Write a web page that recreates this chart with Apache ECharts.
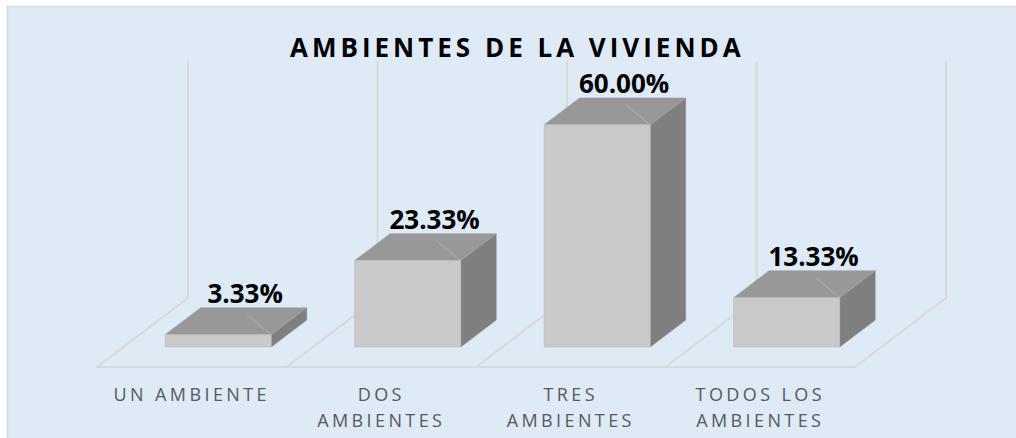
<!DOCTYPE html>
<html>
<head>
<meta charset="utf-8">
<script src="https://cdn.jsdelivr.net/npm/echarts@6/dist/echarts.min.js"></script>
<style>
html, body { margin: 0; padding: 0; background: #fff; }
#main { width: 1016px; height: 438px; }
</style>
</head>
<body>
<div id="main"></div>
<script>
const titleText = 'AMBIENTES DE LA VIVIENDA'
const categories = ['UN AMBIENTE', 'DOS\nAMBIENTES', 'TRES\nAMBIENTES', 'TODOS LOS\nAMBIENTES']
const percents = [3.33, 23.33, 60.00, 13.33]

// fake 3d: floor depth in px, and where the boxes sit inside it
const DEPTH = [91, -69]
const BAR_FRONT = 0.29
const BAR_BACK = 0.68
const BAR_WIDTH = 0.56
const Y_MAX = 64

const chart = echarts.init(document.getElementById('main'), null, { renderer: 'svg' })

function floorItem(params, api) {
  const i = params.dataIndex
  const c = api.coord([i, 0])
  const top = api.coord([i, Y_MAX])[1]
  const band = api.size([1, 0])[0]
  const lineStyle = { stroke: '#d9d9d9', lineWidth: 2 }
  const xs = [c[0] - band / 2]
  if (i === categories.length - 1) xs.push(c[0] + band / 2)
  const children = []
  xs.forEach(x => {
    children.push({
      type: 'line',
      shape: { x1: x, y1: c[1], x2: x + DEPTH[0], y2: c[1] + DEPTH[1] },
      style: lineStyle
    })
    children.push({
      type: 'line',
      shape: { x1: x + DEPTH[0], y1: c[1] + DEPTH[1], x2: x + DEPTH[0], y2: top + DEPTH[1] },
      style: lineStyle
    })
  })
  return { type: 'group', children }
}

function boxItem(params, api) {
  const i = params.dataIndex
  const v = api.value(1)
  const topPt = api.coord([i, v])
  const basePt = api.coord([i, 0])
  const w = api.size([1, 0])[0] * BAR_WIDTH
  const fx = DEPTH[0] * BAR_FRONT
  const fy = DEPTH[1] * BAR_FRONT
  const dx = DEPTH[0] * (BAR_BACK - BAR_FRONT)
  const dy = DEPTH[1] * (BAR_BACK - BAR_FRONT)
  const x0 = topPt[0] - w / 2 + fx
  const x1 = x0 + w
  const yt = topPt[1] + fy
  const yb = basePt[1] + fy
  return {
    type: 'group',
    children: [
      {
        type: 'polygon',
        shape: { points: [[x1, yt], [x1 + dx, yt + dy], [x1 + dx, yb + dy], [x1, yb]] },
        style: { fill: '#7f7f7f', stroke: '#8a8a8a', lineWidth: 0.6 }
      },
      {
        type: 'polygon',
        shape: { points: [[x0, yt], [x1, yt], [x1 + dx, yt + dy], [x0 + dx, yt + dy]] },
        style: { fill: '#989898', stroke: '#a3a3a3', lineWidth: 0.6 }
      },
      {
        type: 'line',
        shape: { x1: x1, y1: yt, x2: x1 - 24, y2: yt - 20 },
        style: { stroke: '#b0b0b0', lineWidth: 1 }
      },
      {
        type: 'rect',
        shape: { x: x0, y: yt, width: w, height: yb - yt },
        style: { fill: '#c9c9c9', stroke: '#bdbdbd', lineWidth: 0.6 }
      },
      {
        type: 'text',
        style: {
          text: v.toFixed(2) + '%',
          x: x0 + w / 2 + 27,
          y: yt + dy - 15,
          align: 'center',
          verticalAlign: 'middle',
          fontFamily: 'Open Sans',
          fontWeight: 'bold',
          fontSize: 26,
          fill: '#000'
        }
      }
    ]
  }
}

const option = {
  animation: false,
  backgroundColor: '#fff',
  graphic: [
    {
      type: 'rect',
      z: -10,
      shape: { x: 7.5, y: 6.5, width: 1030, height: 450 },
      style: { fill: '#deeaf6', stroke: '#d9d9d9', lineWidth: 1.5 }
    }
  ],
  title: {
    text: titleText,
    left: 285,
    top: 29,
    textStyle: {
      fontFamily: 'Open Sans',
      fontWeight: 'bold',
      fontSize: 26,
      lineHeight: 26,
      color: '#000'
    }
  },
  grid: {
    left: 97,
    right: 161,
    top: 130,
    bottom: 71,
    containLabel: false
  },
  xAxis: {
    type: 'category',
    data: categories,
    axisLine: {
      show: true,
      lineStyle: { color: '#d9d9d9', width: 2 }
    },
    axisTick: { show: false },
    axisLabel: {
      interval: 0,
      margin: 14,
      color: '#595959',
      fontFamily: 'Open Sans',
      fontSize: 18,
      lineHeight: 26
    }
  },
  yAxis: {
    type: 'value',
    min: 0,
    max: Y_MAX,
    show: false,
    splitLine: { show: false }
  },
  series: [
    {
      type: 'custom',
      renderItem: floorItem,
      silent: true,
      z: 1,
      data: categories.map((c, i) => [i, 0])
    },
    {
      type: 'custom',
      renderItem: boxItem,
      z: 3,
      encode: { x: 0, y: 1 },
      data: percents.map((p, i) => [i, p])
    }
  ]
}

chart.setOption(option)

// svg text gets the wide letter spacing of the original
const spacing = {}
spacing[titleText] = '4px'
categories.forEach(c => c.split('\n').forEach(s => { spacing[s] = '3.4px' }))
document.querySelectorAll('#main text').forEach(t => {
  const s = spacing[t.textContent.trim()]
  if (s) t.setAttribute('letter-spacing', s)
})
</script>
</body>
</html>
